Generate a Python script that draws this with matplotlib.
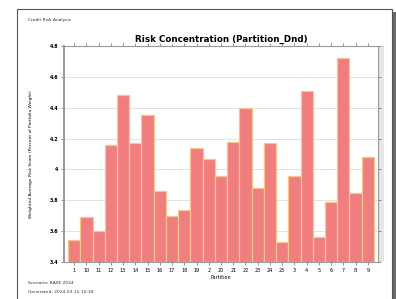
"""
Risk concentration bar chart on a report-page style canvas.
"""
import matplotlib
matplotlib.use("Agg")
import matplotlib.pyplot as plt
from matplotlib.patches import Rectangle

# ─── DATA ──────────────────────────────────────────────
partitions = sorted([str(i) for i in range(1, 26)])  # string-sorted: 1, 10, 11 ... 9
risk_values = [3.54, 3.69, 3.60, 4.16, 4.48, 4.17, 4.35, 3.86, 3.70, 3.74,
               4.14, 4.07, 3.96, 4.18, 4.40, 3.88, 4.17, 3.53, 3.96, 4.51,
               3.56, 3.79, 4.72, 3.85, 4.08]
y_ticks = [3.4, 3.6, 3.8, 4.0, 4.2, 4.4, 4.6, 4.8]
y_tick_labels = ["3.4", "3.6", "3.8", "4", "4.2", "4.4", "4.6", "4.8"]

W, H = 396, 299
fig = plt.figure(figsize=(W/100, H/100), dpi=100, facecolor="white")

# ─── PAGE FRAME ────────────────────────────────────────
def px(x0, y0, x1, y1):
    return (x0/W, 1 - y1/H), (x1-x0)/W, (y1-y0)/H

def page_rect(box, **kw):
    xy, w, h = px(*box)
    fig.add_artist(Rectangle(xy, w, h, transform=fig.transFigure, zorder=-10, **kw))

page_rect((392, 12, 396, 299), facecolor="#6a6a6a", edgecolor="none")
page_rect((17, 9, 392, 305), facecolor="white", edgecolor="#555555", linewidth=0.8)
page_rect((378, 46, 384, 262), facecolor="#e6e6e6", edgecolor="none")

# ─── CHART ─────────────────────────────────────────────
ax = fig.add_axes([64/W, 1-262/H, (378-64)/W, (262-46)/H])
ax.set_facecolor("white")
x = list(range(len(partitions)))
ax.bar(x, [v - 3.4 for v in risk_values], bottom=3.4, width=1.0,
       color="#f07e7e", edgecolor="#f7c592", linewidth=0.9, zorder=3)

ax.set_xlim(-0.83, len(partitions) - 0.17)
ax.set_ylim(3.4, 4.8)
ax.set_yticks(y_ticks)
ax.set_yticklabels(y_tick_labels, fontweight="bold")
ax.set_xticks(x)
ax.set_xticklabels(partitions)
ax.grid(axis="y", color="#dddddd", linewidth=0.6, zorder=0)
ax.tick_params(axis="both", labelsize=3.5, length=2, width=0.5, color="#666666",
               top=True, right=True, pad=2)
for sp in ax.spines.values():
    sp.set_color("#999999")
    sp.set_linewidth(0.8)
ax.spines["left"].set_linewidth(1.4)

ax.set_title("Risk Concentration (Partition_Dnd)", fontsize=6.3, fontweight="bold", pad=3)
ax.set_xlabel("Partition", fontsize=3.5, labelpad=2)
ax.set_ylabel("Weighted Average Risk Score (Percent of Portfolio Weight)", fontsize=3.2, labelpad=12)

fig.text(28/W, 1-20/H, "Credit Risk Analysis", fontsize=3.2, va="center", color="#333333")
fig.text(28/W, 1-283/H, "Scenario: BASE 2024", fontsize=3.2, va="center", color="#333333")
fig.text(28/W, 1-292/H, "Generated: 2024-03-15 10:30", fontsize=3.2, va="center", color="#333333")

fig.savefig("out.png", dpi=100, facecolor="white")
